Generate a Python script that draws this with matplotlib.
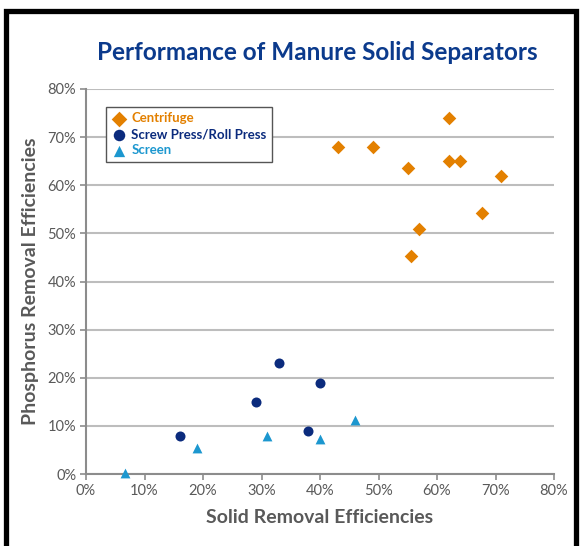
import matplotlib
matplotlib.use('Agg')
import matplotlib.pyplot as plt
from matplotlib.lines import Line2D
from matplotlib.ticker import PercentFormatter

plt.rcParams['font.family'] = ['Lato', 'DejaVu Sans']

# данные (доли в %)
centrifuge_x = [43, 49, 55, 62, 62, 64, 71, 67.7, 57, 55.5]
centrifuge_y = [68, 68, 63.5, 74, 65, 65, 62, 54.3, 51, 45.3]
screw_x = [16, 29, 33, 40, 38]
screw_y = [8, 15, 23, 19, 9]
screen_x = [6.7, 19, 31, 40, 46]
screen_y = [0.3, 5.5, 7.8, 7.3, 11.2]
ticks = [0, 10, 20, 30, 40, 50, 60, 70, 80]

orange = '#E38000'
navy = '#0B2B7D'
cyan = '#1C97CF'
grey_txt = '#595959'

W, H = 581, 546
fig = plt.figure(figsize=(W/100, H/100), dpi=100)
ax = fig.add_axes([86/W, 1-474/H, 468/W, 385/H])

ax.scatter(centrifuge_x, centrifuge_y, marker='D', s=48, color=orange, lw=0, zorder=3, label='Centrifuge', clip_on=False)
ax.scatter(screw_x, screw_y, marker='o', s=52, color=navy, lw=0, zorder=3, label='Screw Press/Roll Press', clip_on=False)
ax.scatter(screen_x, screen_y, marker='^', s=50, color=cyan, lw=0, zorder=3, label='Screen', clip_on=False)

ax.set_xlim(0, 80)
ax.set_ylim(0, 80)
ax.set_xticks(ticks)
ax.set_yticks(ticks)
ax.xaxis.set_major_formatter(PercentFormatter(decimals=0))
ax.yaxis.set_major_formatter(PercentFormatter(decimals=0))
ax.grid(axis='y', color='#BDBDBD', lw=1.5, zorder=0)
ax.set_axisbelow(True)
for s in ['top', 'right']:
    ax.spines[s].set_visible(False)
for s in ['left', 'bottom']:
    ax.spines[s].set_color('#8C8C8C')
    ax.spines[s].set_linewidth(1.5)
ax.tick_params(direction='out', length=4, width=1.2, color='#8C8C8C',
               labelsize=10.5, labelcolor=grey_txt, pad=3)

ax.set_xlabel('Solid Removal Efficiencies', fontsize=14, fontweight='bold', color=grey_txt, labelpad=8)
ax.set_ylabel('Phosphorus Removal Efficiencies', fontsize=14, fontweight='bold', color=grey_txt, labelpad=6)
fig.text(317/W, 1-52/H, 'Performance of Manure Solid Separators', ha='center', va='center',
         fontsize=17.5, fontweight='bold', color='#0B3A8C')

leg = ax.legend(loc='upper left', bbox_to_anchor=(0.043, 0.953), borderaxespad=0,
                fancybox=False, edgecolor='#555555', framealpha=1, fontsize=9.5,
                handletextpad=0.3, borderpad=0.4, labelspacing=0.3, handlelength=1.2,
                markerscale=1.15)
leg.get_frame().set_linewidth(1.0)
for t, c in zip(leg.get_texts(), [orange, navy, cyan]):
    t.set_color(c)
    t.set_fontweight('bold')

# чёрная рамка (без нижней стороны)
fig.add_artist(Line2D([5.5/W, 5.5/W, 575.5/W, 575.5/W], [0, 1-10.5/H, 1-10.5/H, 0],
                      transform=fig.transFigure, color='black', lw=3.8, solid_joinstyle='miter'))

plt.savefig('out.png', dpi=100)
